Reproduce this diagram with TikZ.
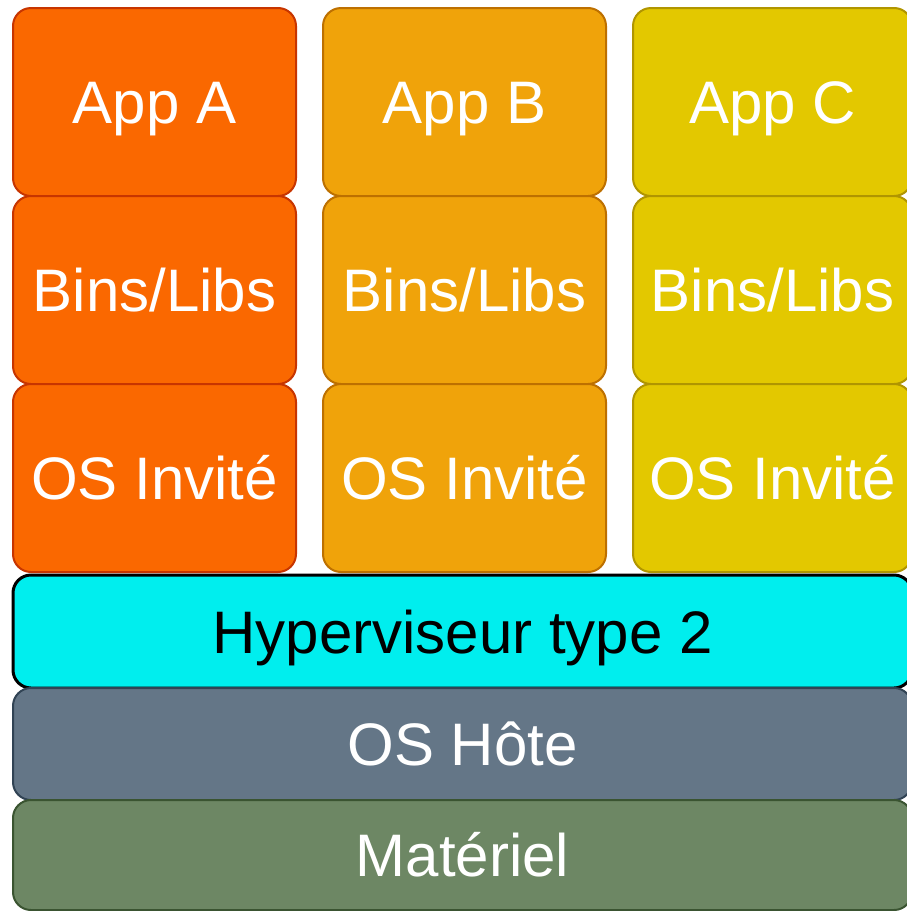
\documentclass[tikz,border=0pt]{standalone}
\usepackage{fontspec}
\setmainfont{Liberation Sans}
\definecolor{appAfill}{HTML}{FA6800}
\definecolor{appAline}{HTML}{C73500}
\definecolor{appBfill}{HTML}{F0A30A}
\definecolor{appBline}{HTML}{BD7000}
\definecolor{appCfill}{HTML}{E3C800}
\definecolor{appCline}{HTML}{B09500}
\definecolor{hypfill}{HTML}{00EEEE}
\definecolor{hostfill}{HTML}{647687}
\definecolor{hostline}{HTML}{314354}
\definecolor{hwfill}{HTML}{6D8764}
\definecolor{hwline}{HTML}{3A5431}
\tikzset{
  layer/.style={draw, rounded corners=18pt, line width=2pt, inner sep=0pt, outer sep=0pt,
    text height=43pt, text depth=0pt, font=\fontsize{60}{72}\selectfont, text=white},
  colA/.style={layer, fill=appAfill, draw=appAline, minimum width=283pt, minimum height=188pt},
  colB/.style={layer, fill=appBfill, draw=appBline, minimum width=283pt, minimum height=188pt},
  colC/.style={layer, fill=appCfill, draw=appCline, minimum width=279pt, minimum height=188pt},
  hyper/.style={layer, fill=hypfill, draw=black, line width=3pt, text=black,
    minimum width=899pt, minimum height=113pt},
  host/.style={layer, fill=hostfill, draw=hostline, minimum width=899pt, minimum height=112pt},
  hardware/.style={layer, fill=hwfill, draw=hwline, minimum width=899pt, minimum height=110pt}
}
\begin{document}
\begin{tikzpicture}[x=1pt, y=-1pt]
\useasboundingbox (0,0) rectangle (907,911);
\clip (0,0) rectangle (907,911);
% guest stacks, one column per virtual machine
\node[colA] (appA) at (154.5,102) {App A};
\node[colA] (libA) at (154.5,290) {Bins/Libs};
\node[colA] (osA)  at (154.5,478) {OS Invité};
\node[colB] (appB) at (464.5,102) {App B};
\node[colB] (libB) at (464.5,290) {Bins/Libs};
\node[colB] (osB)  at (464.5,478) {OS Invité};
\node[colC] (appC) at (772.5,102) {App C};
\node[colC] (libC) at (772.5,290) {Bins/Libs};
\node[colC] (osC)  at (772.5,478) {OS Invité};
% shared layers underneath
\node[hyper] (hyp) at (462.5,631.5) {Hyperviseur type 2};
\node[host] (host) at (462.5,744) {OS Hôte};
\node[hardware] (hw) at (462.5,855) {Matériel};
\end{tikzpicture}
\end{document}
